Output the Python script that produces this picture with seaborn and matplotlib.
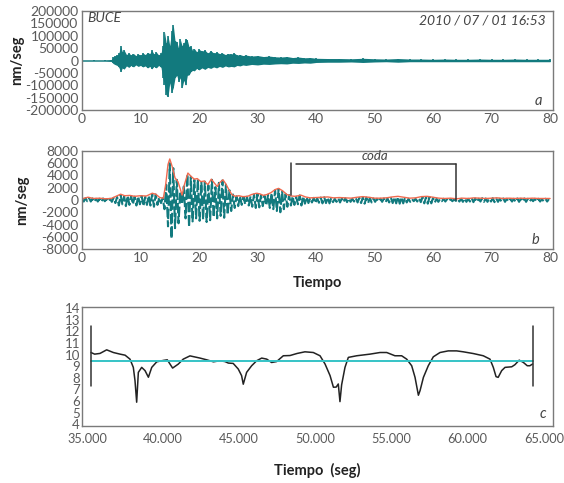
import numpy as np
import pandas as pd
import matplotlib
matplotlib.use("Agg")
import matplotlib.pyplot as plt
import seaborn as sns

# ---------------- data ----------------
# (a) broadband velocity record: upper / lower extent of the trace (nm/s)
a_time = [0, 2, 4, 5.0, 5.3, 5.6, 6.0, 6.3, 6.6, 6.9, 7.2, 7.6, 8.0, 8.4, 8.8, 9.2, 9.6,
          10.0, 10.4, 10.8, 11.2, 11.6, 11.9, 12.3, 12.7, 13.1, 13.5, 13.8, 14.1, 14.4,
          14.7, 15.0, 15.3, 15.6, 15.9, 16.2, 16.5, 16.8, 17.1, 17.4, 17.7, 18.0, 18.3,
          18.6, 18.9, 19.2, 19.6, 20.0, 20.5, 21.0, 21.5, 22.0, 22.5, 23.0, 23.5, 24.0,
          24.5, 25.0, 25.5, 26.0, 26.5, 27.0, 27.5, 28.0, 29, 30, 31, 32, 33, 34, 35, 36,
          37, 38, 39, 40, 42, 44, 46, 48, 50, 52, 54, 56, 58, 60, 62, 64, 66, 68, 70, 72,
          74, 76, 78, 80]
a_upper = [3, 3, 3, 4, 14, 18, 22, 30, 58, 35, 42, 24, 30, 22, 28, 20, 26,
           22, 30, 24, 32, 28, 42, 26, 34, 22, 30, 60, 115, 70,
           100, 60, 120, 143, 80, 76, 50, 85, 60, 70, 88, 82, 55,
           58, 40, 48, 35, 45, 38, 42, 30, 40, 30, 34, 28, 30,
           24, 28, 26, 30, 22, 24, 20, 22, 18, 20, 16, 18, 15, 14, 16, 12,
           14, 11, 12, 9, 8, 8, 7, 9, 7, 6, 8, 6, 6, 5, 6, 5, 5, 6, 5, 5,
           6, 5, 5, 5]
a_lower = [-3, -3, -3, -4, -12, -16, -20, -28, -45, -30, -35, -22, -28, -20, -26, -18, -24,
           -20, -26, -22, -30, -24, -34, -24, -30, -20, -28, -70, -100, -140,
           -146, -90, -130, -110, -70, -60, -86, -70, -111, -80, -100, -60, -58,
           -45, -40, -42, -32, -38, -30, -36, -28, -32, -26, -30, -24, -28,
           -22, -26, -24, -26, -20, -22, -18, -20, -16, -18, -15, -16, -14, -13, -14, -11,
           -12, -10, -11, -8, -7, -7, -6, -8, -6, -5, -7, -5, -5, -5, -5, -5, -5, -5, -5, -5,
           -5, -5, -5, -5]

# (b) band-passed record: successive peaks and troughs, one every 0.3 s from t = 0
b_step = 0.3
b_extrema = [
    150, -250, 300, -200, 350, -250, 250, -300, 200, -250,
    200, -300, 250, -200, 150, -250, 200, -300, 350, -500,
    500, -900, 800, -700, 600, -1000, 700, -800, 650, -700,
    550, -900, 600, -700, 650, -1000, 500, -800, 700, -900,
    1000, -1100, 900, -800, 400, -500, 300, -1500, 2500, -4300,
    6000, -6300, 5200, -4600, 3300, -3800, 1400, -700, 2200, -3000,
    4200, -4400, 3800, -3500, 3300, -3000, 3400, -3400, 2900, -3200,
    3000, -3600, 2400, -3300, 3300, -2800, 2100, -3000, 2800, -2600,
    3200, -2900, 2500, -2400, 1600, -1800, 900, -1300, 600, -1000,
    650, -800, 500, -700, 550, -900, 600, -1100, 900, -1300,
    1000, -1200, 800, -1000, 700, -900, 850, -1300, 1100, -1500,
    1600, -1800, 1800, -2000, 1400, -1500, 1000, -1100, 800, -900,
    600, -800, 550, -700, 750, -900, 600, -600, 450, -500,
    300, -400, 350, -500, 300, -450, 400, -550, 450, -500,
    400, -550, 300, -350, 200, -300, 300, -400, 250, -350,
    300, -350, 250, -300, 200, -250, 300, -400, 350, -500,
    450, -600, 400, -500, 350, -400, 250, -300, 200, -250,
    200, -300, 250, -350, 300, -400, 350, -500, 450, -550,
    500, -600, 450, -550, 350, -400, 200, -300, 150, -200,
    200, -250, 300, -350, 450, -550, 500, -600, 500, -550,
    350, -400, 200, -300, 150, -200, 200, -250, 150, -200,
    150, -200, 100, -150, 150, -250, 200, -300, 250, -300,
    200, -250, 300, -350, 250, -300, 200, -250, 300, -300,
    250, -300, 200, -250, 300, -350, 250, -300, 200, -250,
    250, -300, 200, -250, 150, -250, 200, -300, 250, -300,
    200, -250, 250, -300, 200, -250, 150, -200, 200, -250,
    200, -250, 150, -200, 200, -250, 150,
]

# (b) amplitude envelope
env_time = [0, 1, 2, 3, 4, 5, 5.8, 6.6, 7.3, 8.2, 9.0, 10, 11, 12.0, 12.6, 13.3, 13.9,
            14.3, 14.7, 15.0, 15.4, 15.9, 16.4, 16.8, 17.1, 17.5, 18.1, 18.7, 19.2, 19.7,
            20.3, 20.9, 21.5, 22.1, 22.6, 23.1, 23.6, 24.1, 24.6, 25.1, 25.6, 26.2, 26.8,
            27.5, 28.3, 29.0, 29.8, 30.4, 31.0, 31.6, 32.3, 33.0, 33.6, 34.3, 35.0, 35.8,
            36.5, 37.4, 38.2, 39, 40, 41, 42, 43, 44, 45, 46, 47, 48, 49, 50, 51, 52, 53,
            54, 55, 56, 57, 58, 59, 60, 61, 62, 63, 64, 65, 66, 67, 68, 69, 70, 71, 72,
            73, 74, 75, 76, 77, 78, 79, 80]
env_value = [200, 450, 250, 300, 200, 250, 600, 950, 700, 750, 600, 700, 650, 1100, 950,
             400, 300, 2500, 5800, 6700, 5500, 3600, 3000, 1800, 800, 2500, 4400, 3800,
             3400, 3500, 3000, 3100, 2500, 3400, 2800, 2200, 2900, 3300, 2600, 1700, 900,
             600, 700, 550, 600, 900, 1100, 1000, 750, 900, 1200, 1700, 1900, 1500, 900,
             650, 600, 800, 500, 350, 400, 450, 500, 350, 400, 350, 300, 450, 550, 450,
             300, 300, 350, 500, 600, 450, 300, 350, 550, 600, 450, 300, 250, 300, 200,
             300, 250, 350, 300, 250, 300, 350, 250, 300, 250, 300, 250, 300, 250, 250,
             250]

# coda window
coda_start, coda_end, coda_level = 35.8, 64.0, 5900

# (c) log envelope inside the coda window
c_time = [35.26, 35.5, 35.85, 36.29, 36.73, 37.17, 37.5, 37.82, 38.04, 38.15, 38.26,
          38.37, 38.59, 38.81, 39.03, 39.25, 39.58, 40.02, 40.27, 40.62, 40.99, 41.32,
          41.76, 42.42, 42.86, 43.3, 43.73, 44.06, 44.28, 44.6, 44.93, 45.15, 45.26,
          45.48, 45.81, 46.14, 46.47, 46.8, 47.12, 47.45, 47.89, 48.33, 48.8, 49.31,
          49.86, 50.3, 50.63, 50.96, 51.18, 51.36, 51.5, 51.61, 51.72, 51.94, 52.16,
          52.71, 53.58, 54.24, 54.68, 55.22, 55.66, 55.99, 56.32, 56.54, 56.76, 56.87,
          57.09, 57.41, 57.74, 58.18, 58.72, 59.27, 59.71, 60.37, 61.02, 61.46, 61.68,
          61.86, 62.0, 62.23, 62.45, 62.89, 63.1, 63.38, 63.65, 63.91, 64.08, 64.26]
c_value = [10.18, 10.04, 10.1, 10.41, 10.18, 10.04, 9.95, 9.61, 8.9, 7.76, 5.9,
           8.47, 8.9, 8.62, 8.05, 8.9, 9.38, 9.5, 9.55, 8.84, 9.18, 9.61,
           9.89, 9.7, 9.55, 9.38, 9.47, 9.4, 9.27, 9.24, 8.76, 8.19, 7.45,
           8.47, 9.04, 9.47, 9.7, 9.61, 9.32, 9.4, 9.9, 9.92, 10.1, 10.24,
           10.18, 9.9, 9.19, 8.19, 7.19, 7.2, 7.47, 5.95, 7.4, 8.9, 9.76,
           9.9, 10.04, 10.18, 10.18, 9.9, 9.9, 9.61, 9.04, 8.04, 6.5, 6.9,
           8.04, 9.04, 9.81, 10.18, 10.32, 10.32, 10.24, 10.09, 9.9, 9.61, 8.9,
           8.1, 8.04, 8.62, 8.9, 8.95, 9.13, 9.52, 9.33, 9.04, 9.04, 9.19]
c_mean = 9.45
c_marker_low, c_marker_high = 7.27, 12.46

a_yticks = [-200000, -150000, -100000, -50000, 0, 50000, 100000, 150000, 200000]
b_yticks = [-8000, -6000, -4000, -2000, 0, 2000, 4000, 6000, 8000]
ab_xticks = [0, 10, 20, 30, 40, 50, 60, 70, 80]
c_yticks = list(range(4, 15))
c_xticks = [35, 40, 45, 50, 55, 60, 65]
c_xticklabels = ["35.000", "40.000", "45.000", "50.000", "55.000", "60.000", "65.000"]

# ---------------- style ----------------
sns.set_theme(style="white")
plt.rcParams["font.family"] = ["Lato", "DejaVu Sans"]

TEAL = "#127a7e"
CORAL = "#f06a4f"
CYAN = "#35c3c6"
TICK_COLOR = "#5a5a5a"
TICK_FS = 10
LABEL_FS = 10.5

fig = plt.figure(figsize=(5.64, 4.83), dpi=100)
ax_a = fig.add_axes([82 / 564, 1 - 110 / 483, 471 / 564, 99 / 483])
ax_b = fig.add_axes([82 / 564, 1 - 249 / 483, 471 / 564, 98 / 483])
ax_c = fig.add_axes([82 / 564, 1 - 426 / 483, 471 / 564, 119 / 483])


def style_axes(ax):
    ax.tick_params(axis="both", length=0, labelsize=TICK_FS, pad=2.5,
                   labelcolor=TICK_COLOR)
    for s in ax.spines.values():
        s.set_visible(True)
        s.set_color("#7a7a7a")
        s.set_linewidth(1.0)


# ---- (a) ----
a_hi = np.array(a_upper) * 1000.0
a_lo = np.array(a_lower) * 1000.0
ax_a.fill_between(a_time, a_lo, a_hi, color=TEAL, linewidth=0)
ax_a.vlines(a_time, a_lo, a_hi, color=TEAL, linewidth=1.2)
ax_a.set_xlim(0, 80.5)
ax_a.set_ylim(-200000, 200000)
ax_a.set_yticks(a_yticks)
ax_a.set_yticklabels([str(v) for v in a_yticks])
ax_a.set_xticks(ab_xticks)
ax_a.set_ylabel("nm/seg", fontsize=LABEL_FS, fontweight="bold", color="#222222",
                labelpad=0.5)
ax_a.text(0.012, 0.93, "BUCE", transform=ax_a.transAxes, fontsize=10,
          style="italic", color="#444444", ha="left", va="center")
ax_a.text(0.985, 0.90, "2010 / 07 / 01 16:53", transform=ax_a.transAxes,
          fontsize=10, style="italic", color="#444444", ha="right", va="center")
ax_a.text(0.978, 0.09, "a", transform=ax_a.transAxes, fontsize=10.5,
          style="italic", color="#444444", ha="right", va="center")
style_axes(ax_a)

# ---- (b) ----
b_df = pd.DataFrame({"t": np.arange(len(b_extrema)) * b_step, "v": b_extrema})
env_df = pd.DataFrame({"t": env_time, "v": env_value})
sns.lineplot(data=b_df, x="t", y="v", ax=ax_b, color=TEAL, linewidth=1.5,
             estimator=None, linestyle=(0, (5, 1.4)))
sns.lineplot(data=env_df, x="t", y="v", ax=ax_b, color=CORAL, linewidth=1.0,
             estimator=None)
ax_b.plot([coda_start, coda_start], [coda_level + 100, 800], color="#333333", lw=1.1)
ax_b.plot([coda_start + 0.8, coda_end], [coda_level, coda_level], color="#333333", lw=1.1)
ax_b.plot([coda_end, coda_end], [coda_level, 0], color="#333333", lw=1.1)
ax_b.text((coda_start + coda_end) / 2 + 0.1, coda_level + 250, "coda", fontsize=9.5,
          style="italic", color="#444444", ha="center", va="bottom")
ax_b.set_xlim(0, 80.5)
ax_b.set_ylim(-8000, 8000)
ax_b.set_yticks(b_yticks)
ax_b.set_yticklabels([str(v) for v in b_yticks])
ax_b.set_xticks(ab_xticks)
ax_b.set_ylabel("nm/seg", fontsize=LABEL_FS, fontweight="bold", color="#222222",
                labelpad=9)
ax_b.set_xlabel("Tiempo", fontsize=LABEL_FS, fontweight="bold", color="#222222",
                labelpad=8)
ax_b.text(0.97, 0.09, "b", transform=ax_b.transAxes, fontsize=10.5,
          style="italic", color="#444444", ha="right", va="center")
style_axes(ax_b)

# ---- (c) ----
c_df = pd.DataFrame({"t": c_time, "v": c_value})
sns.lineplot(data=c_df, x="t", y="v", ax=ax_c, color="#222222", linewidth=1.1,
             estimator=None)
ax_c.plot([c_time[0], c_time[-1]], [c_mean, c_mean], color=CYAN, lw=1.4)
ax_c.plot([c_time[0], c_time[0]], [c_marker_low, c_marker_high], color="#333333", lw=1.1)
ax_c.plot([c_time[-1], c_time[-1]], [c_marker_low, c_marker_high], color="#333333", lw=1.1)
ax_c.set_xlim(34.67, 65.6)
ax_c.set_ylim(3.85, 14.1)
ax_c.set_yticks(c_yticks)
ax_c.set_xticks(c_xticks)
ax_c.set_xticklabels(c_xticklabels)
ax_c.set_ylabel("")
ax_c.set_xlabel("Tiempo  (seg)", fontsize=LABEL_FS, fontweight="bold", color="#222222",
                labelpad=13)
ax_c.text(0.985, 0.10, "c", transform=ax_c.transAxes, fontsize=10.5,
          style="italic", color="#444444", ha="right", va="center")
style_axes(ax_c)
ax_c.tick_params(axis="y", labelsize=9.5, pad=1.5)
ax_c.tick_params(axis="x", labelsize=9.2, pad=5)

fig.savefig("out.png", dpi=100)
